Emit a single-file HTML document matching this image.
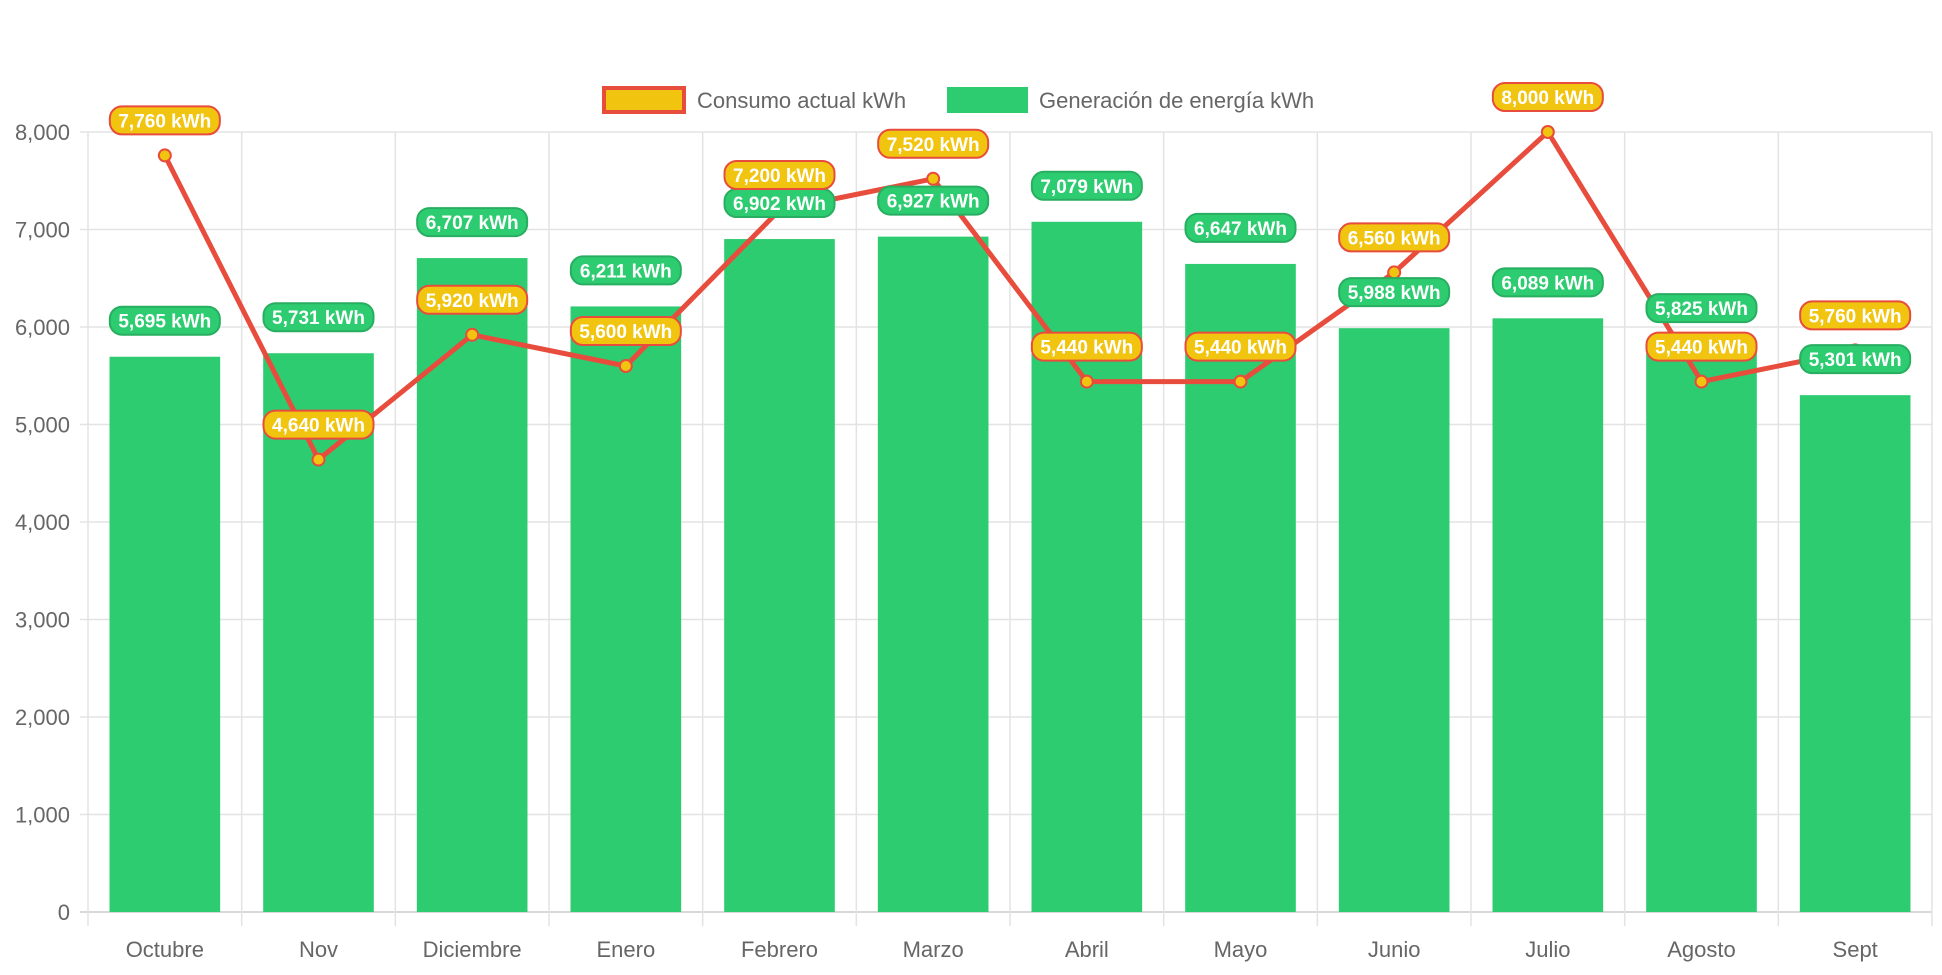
<!DOCTYPE html>
<html><head><meta charset="utf-8"><style>
body{margin:0;background:#fff;}
svg text{font-family:"Liberation Sans",Arial,sans-serif;}
</style></head><body>
<svg id="c" width="1942" height="970" xmlns="http://www.w3.org/2000/svg"></svg>
<script>
const categories=["Octubre","Nov","Diciembre","Enero","Febrero","Marzo","Abril","Mayo","Junio","Julio","Agosto","Sept"];
const generation=[5695,5731,6707,6211,6902,6927,7079,6647,5988,6089,5825,5301];
const consumption=[7760,4640,5920,5600,7200,7520,5440,5440,6560,8000,5440,5760];
const yTicks=[0,1000,2000,3000,4000,5000,6000,7000,8000];
const NS="http://www.w3.org/2000/svg";
const svg=document.getElementById('c');
const L=88,R=1932,T=132,B=912,YMAX=8000;
const cw=(R-L)/categories.length;
const y=v=>B-(v/YMAX)*(B-T);
const xc=i=>L+cw*(i+0.5);
function el(t,a,p){const e=document.createElementNS(NS,t);for(const k in a)e.setAttribute(k,a[k]);(p||svg).appendChild(e);return e;}
const fmt=v=>v.toLocaleString('en-US');
// grid
yTicks.forEach(v=>{
  const g=el('line',{x1:L-8,x2:R,y1:y(v),y2:y(v),stroke:v===0?'#ccc':'#e3e3e3','stroke-width':1.5});
  
  
  const t=el('text',{x:L-18,y:y(v)+8,'text-anchor':'end','font-size':22,fill:'#666'});
  t.textContent=fmt(v);
  
  
});
for(let i=0;i<=categories.length;i++){
  const g=el('line',{x1:L+cw*i,x2:L+cw*i,y1:T,y2:B+14,stroke:'#e3e3e3','stroke-width':1.5});
  
  
}
categories.forEach((c,i)=>{
  const t=el('text',{x:xc(i),y:957,'text-anchor':'middle','font-size':22,fill:'#666'});
  t.textContent=c;
  
  
});
// bars
const bw=cw*0.72;
generation.forEach((v,i)=>{
  const r=el('rect',{x:xc(i)-bw/2,y:y(v),width:bw,height:B-y(v),fill:'#2ecc71'});
  
  
});
// line
let d='';consumption.forEach((v,i)=>{d+=(i?'L':'M')+xc(i)+' '+y(v);});
const ln=el('path',{d:d,fill:'none',stroke:'#e74c3c','stroke-width':5,'stroke-linejoin':'round'});


consumption.forEach((v,i)=>{
  const p=el('circle',{cx:xc(i),cy:y(v),r:6,fill:'#f1c40f',stroke:'#e74c3c','stroke-width':2});
  
  
});
function pill(cx,cy,txt,bg,bd,name){
  const w=110,h=28;
  const g=el('g',{});
  
  
  el('rect',{x:cx-w/2,y:cy-h/2,width:w,height:h,rx:12,fill:bg,stroke:bd,'stroke-width':2},g);
  const t=el('text',{x:cx,y:cy+7,'text-anchor':'middle','font-size':19,'font-weight':'bold',fill:'#fff'},g);
  t.textContent=txt;
}
generation.forEach((v,i)=>pill(xc(i),y(v)-36,fmt(v)+' kWh','#2ecc71','#27ae60','generation-value-label'));
consumption.forEach((v,i)=>pill(xc(i),y(v)-35,fmt(v)+' kWh','#f1c40f','#e74c3c','consumption-value-label'));
// legend
const lg=el('g',{});


const l1=el('rect',{x:604,y:88,width:80,height:24,fill:'#f1c40f',stroke:'#e74c3c','stroke-width':4},lg);


const t1=el('text',{x:697,y:108,'font-size':22,fill:'#666'},lg);t1.textContent='Consumo actual kWh';


const l2=el('rect',{x:947,y:87,width:81,height:26,fill:'#2ecc71'},lg);


const t2=el('text',{x:1039,y:108,'font-size':22,fill:'#666'},lg);t2.textContent='Generación de energía kWh';


</script>
</body></html>
